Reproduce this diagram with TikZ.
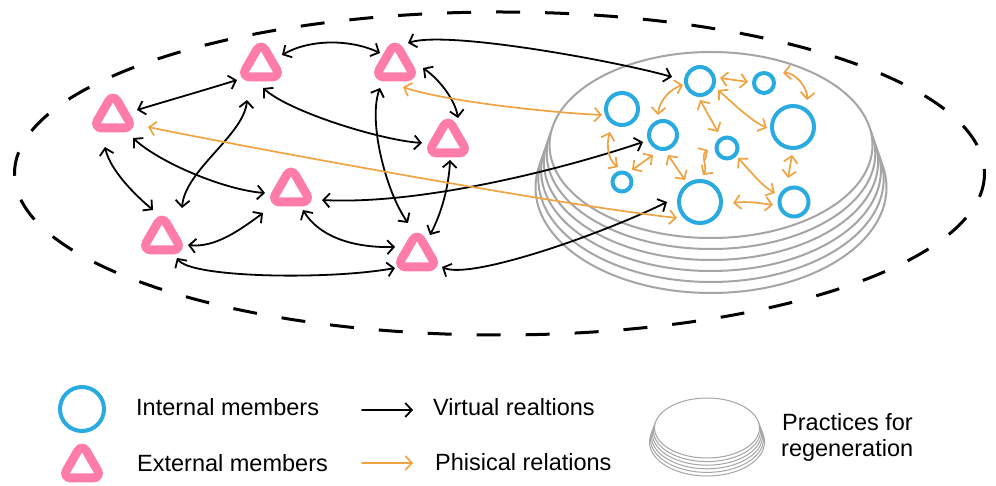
\documentclass[tikz,border=0pt]{standalone}
\usepackage{fontspec}
\setmainfont{Liberation Sans}
\usetikzlibrary{arrows.meta}
\definecolor{pinkc}{RGB}{255,124,168}
\definecolor{bluec}{RGB}{41,171,226}
\definecolor{orangec}{RGB}{240,163,67}
\definecolor{grayc}{RGB}{165,165,165}
\begin{document}
\begin{tikzpicture}[x=1pt,y=-1pt,
  >={Straight Barb[length=6.5pt,width=14pt]},
  va/.style={<->, draw=black, line width=1.8pt, line cap=round, line join=round},
  pa/.style={<->, draw=orangec, line width=1.7pt, line cap=round, line join=round},
  tnode/.style={circle, minimum size=44pt, inner sep=0pt, draw=none},
  cnode/.style={circle, draw=bluec, line width=4pt, inner sep=0pt},
  layer/.style={draw=grayc, line width=2pt, fill=white},
  slayer/.style={draw=grayc, line width=1pt, fill=white},
  lbl/.style={anchor=base west, inner sep=0pt, font=\fontsize{23.5pt}{27pt}\selectfont}
]
\useasboundingbox (0,0) rectangle (996,486);

% outer dashed boundary
\draw[line width=3pt, dash pattern=on 24pt off 25pt] (499.5,173.5) ellipse [x radius=485, y radius=161.5];

% practices for regeneration (stack)
\foreach \k in {5,4,3,2,1,0}
  \draw[layer] (711,{145+8.5*\k}) ellipse [x radius={161.5+2.8*\k}, y radius={93+2.5*\k}];

% external members
\node[tnode] (T1) at (261,62) {};
\node[tnode] (T2) at (395,62) {};
\node[tnode] (T3) at (113,113) {};
\node[tnode] (T4) at (448,138) {};
\node[tnode] (T5) at (291,187) {};
\node[tnode] (T6) at (162,235) {};
\node[tnode] (T7) at (417,252) {};
\node[tnode] (LT) at (82,463) {};
\foreach \n in {T1,T2,T3,T4,T5,T6,T7,LT}
  \path[preaction={draw=pinkc, line width=18pt, line join=round}, fill=white]
    ([shift={(0,-10.4)}]\n.center) -- ([shift={(12,10.4)}]\n.center)
    -- ([shift={(-12,10.4)}]\n.center) -- cycle;

% internal members
\node[cnode, minimum size=28pt] (C1) at (700,81) {};
\node[cnode, minimum size=20pt] (C2) at (764,83) {};
\node[cnode, minimum size=32pt] (C3) at (622,109) {};
\node[cnode, minimum size=28pt] (C4) at (663,135) {};
\node[cnode, minimum size=42pt] (C5) at (793,127) {};
\node[cnode, minimum size=21pt] (C6) at (727,148) {};
\node[cnode, minimum size=19pt] (C7) at (622,182) {};
\node[cnode, minimum size=42pt] (C8) at (700,202) {};
\node[cnode, minimum size=29pt] (C9) at (794,202) {};

% virtual relations
\draw[va] ([shift={(21,-7)}]T1.center) .. controls (310,39) and (350,39) .. ([shift={(-15,-9)}]T2.center);
\draw[va] ([shift={(13,-19)}]T2.center) .. controls (448,30) and (620,62) .. ([shift={(-28,-4)}]C1.center);
\draw[va] ([shift={(24,-3)}]T3.center) .. controls (170,100) and (205,90) .. ([shift={(-24,18)}]T1.center);
\draw[va] ([shift={(2,26)}]T1.center) .. controls (290,112) and (380,140) .. ([shift={(-26,5)}]T4.center);
\draw[va] ([shift={(-14,38)}]T1.center) .. controls (244,135) and (185,170) .. ([shift={(20,-27)}]T6.center);
\draw[va] ([shift={(-8,34)}]T3.center) .. controls (110,170) and (135,195) .. ([shift={(-9,-25)}]T6.center);
\draw[va] ([shift={(20,25)}]T3.center) .. controls (160,163) and (225,190) .. ([shift={(-26,6)}]T5.center);
\draw[va] ([shift={(26,10)}]T6.center) .. controls (215,248) and (240,230) .. ([shift={(-28,26)}]T5.center);
\draw[va] ([shift={(15,23)}]T6.center) .. controls (190,278) and (330,280) .. ([shift={(-22,16)}]T7.center);
\draw[va] ([shift={(12,23)}]T5.center) .. controls (318,235) and (350,248) .. ([shift={(-22,-5)}]T7.center);
\draw[va] ([shift={(-15,26)}]T2.center) .. controls (368,120) and (385,190) .. ([shift={(-9,-29)}]T7.center);
\draw[va] ([shift={(28,6)}]T2.center) .. controls (440,80) and (455,100) .. ([shift={(10,-20)}]T4.center);
\draw[va] ([shift={(2,22)}]T4.center) .. controls (449,185) and (442,212) .. ([shift={(13,-17)}]T7.center);
\draw[va] ([shift={(31,13)}]T5.center) .. controls (420,205) and (560,170) .. ([shift={(-20,7)}]C4.center);
\draw[va] ([shift={(25,15)}]T7.center) .. controls (470,280) and (600,235) .. ([shift={(-33,0)}]C8.center);

% physical relations
\draw[pa] ([shift={(8,25)}]T2.center) .. controls (440,100) and (540,112) .. ([shift={(-20,6)}]C3.center);
\draw[pa] ([shift={(35,14)}]T3.center) .. controls (260,150) and (560,205) .. ([shift={(-23,16)}]C8.center);
\draw[pa] ([shift={(20,-3)}]C1.center) -- ([shift={(-16,-1)}]C2.center);
\draw[pa] ([shift={(19,-10)}]C2.center) .. controls (795,72) and (808,88) .. ([shift={(14,-27)}]C5.center);
\draw[pa] ([shift={(-17,4)}]C1.center) .. controls (672,88) and (659,100) .. ([shift={(-5,-20)}]C4.center);
\draw[pa] ([shift={(0,19)}]C1.center) -- ([shift={(-9,-16)}]C6.center);
\draw[pa] ([shift={(18,9)}]C1.center) .. controls (735,105) and (750,120) .. ([shift={(-26,1)}]C5.center);
\draw[pa] ([shift={(-12,23)}]C3.center) .. controls (606,145) and (608,160) .. ([shift={(-4,-15)}]C7.center);
\draw[pa] ([shift={(-10,20)}]C4.center) -- ([shift={(10,-12)}]C7.center);
\draw[pa] ([shift={(5,20)}]C4.center) -- ([shift={(-15,-22)}]C8.center);
\draw[pa] ([shift={(-19,2)}]C6.center) .. controls (700,155) and (708,168) .. ([shift={(3,-27)}]C8.center);
\draw[pa] ([shift={(11,10)}]C6.center) .. controls (752,173) and (762,186) .. ([shift={(-19,-9)}]C9.center);
\draw[pa] ([shift={(-1,28)}]C5.center) -- ([shift={(-6,-24)}]C9.center);
\draw[pa] ([shift={(33,1)}]C8.center) .. controls (747,201) and (760,203) .. ([shift={(-21,3)}]C9.center);

% legend
\node[cnode, minimum size=44pt] (LC) at (82,409) {};
\coordinate (la1) at (362,410);
\coordinate (la2) at (413,410);
\coordinate (lb1) at (362,463);
\coordinate (lb2) at (413,463);
\draw[->, draw=black, line width=1.8pt, line cap=round, line join=round] (la1) -- (la2);
\draw[->, draw=orangec, line width=1.7pt, line cap=round, line join=round] (lb1) -- (lb2);
\foreach \k in {5,4,3,2,1,0}
  \draw[slayer] (707,{428+2.8*\k}) ellipse [x radius={52.5+\k}, y radius={30+0.8*\k}];
\node[lbl] (t1) at (136,415) {Internal members};
\node[lbl] (t2) at (137,471) {External members};
\node[lbl] (t3) at (433,415) {Virtual realtions};
\node[lbl] (t4) at (435,470) {Phisical relations};
\node[lbl] (t5) at (782,430) {Practices for};
\node[lbl] (t6) at (781,456) {regeneration};
\end{tikzpicture}
\end{document}
